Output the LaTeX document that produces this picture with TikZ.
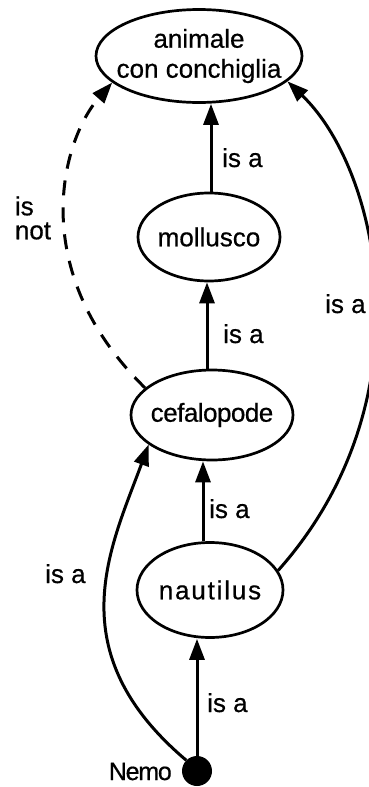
\documentclass[tikz,border=0pt]{standalone}
\usepackage{fontspec}
\setmainfont[FakeBold=0.6]{Liberation Sans}
\usetikzlibrary{shapes.geometric,arrows.meta}
\begin{document}
\begin{tikzpicture}[x=1pt,y=-1pt,
  concept/.style={ellipse,draw,line width=2.7pt,inner xsep=-15pt,inner ysep=0pt,
    font=\fontsize{26}{30}\selectfont,align=center},
  isa/.style={line width=3pt,-{Triangle[length=21pt,width=15pt]}},
  notisa/.style={isa,dash pattern=on 15pt off 12pt},
  rel/.style={font=\fontsize{26}{30}\selectfont,inner sep=0pt,anchor=base west},
]
\useasboundingbox (0,0) rectangle (369,787);
\fill[white] (0,0) rectangle (369,787);

% concepts
\node[concept,minimum width=206pt,minimum height=93pt] (anim) at (199,56) {animale\\con conchiglia};
\node[concept,minimum width=142pt,minimum height=88pt] (mol) at (209,237) {mollusco};
\node[concept,minimum width=162pt,minimum height=90pt] (cef) at (212,415) {\addfontfeature{LetterSpace=-2}cefalopode};
\node[concept,minimum width=146pt,minimum height=95pt] (naut) at (210,590) {\addfontfeature{LetterSpace=7}nautilus};
\node[circle,fill,inner sep=0pt,minimum size=30pt] (nemo) at (197,771) {};
\node[font=\fontsize{25}{30}\selectfont,inner sep=0pt,anchor=base east] (nemotext) at (172,780) {\addfontfeature{LetterSpace=-5}Nemo};

% straight "is a" links
\draw[isa] ([xshift=2pt]mol.north) -- ([xshift=2pt]mol.north |- anim.south);
\draw[isa] ([xshift=-5pt]cef.north) -- ([xshift=-5pt]cef.north |- mol.south);
\draw[isa] ([xshift=-7pt]naut.north) -- ([xshift=-7pt]naut.north |- cef.south);
\draw[isa] (nemo.north) -- (nemo.north |- naut.south);

% curved links
\draw[isa] (nemo.135) .. controls (57,651) and (111,547) .. (cef.205);
\draw[isa] (naut.16) .. controls (430,400) and (380,170) .. (anim.-16);
\draw[notisa] (cef.158) .. controls (25,270) and (62,140) .. (anim.197);

% link labels
\node[rel] (l1) at (222,167) {is a};
\node[rel] (l2) at (223,343) {is a};
\node[rel] (l3) at (325,313) {is a};
\node[rel] (l4) at (209,518) {is a};
\node[rel] (l5) at (207,712) {is a};
\node[rel] (l6) at (45,583) {is a};
\node[font=\fontsize{26}{24}\selectfont,align=left,inner sep=0pt] (l7) at (33,218) {is\\not};
\end{tikzpicture}
\end{document}
